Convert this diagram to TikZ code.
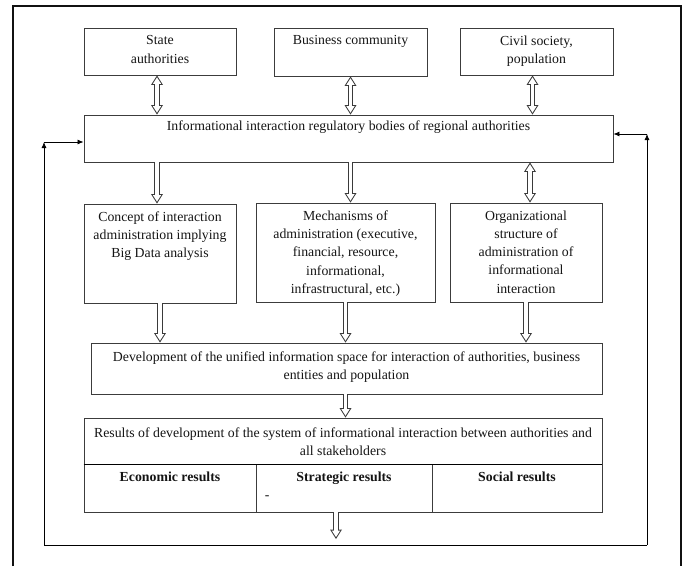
\documentclass[tikz,border=0pt]{standalone}
\usepackage{fontspec}
\setmainfont{Liberation Serif}
\usepackage{tikz}
\usetikzlibrary{arrows.meta, positioning, calc}
\definecolor{frameline}{HTML}{111111}
\definecolor{boxline}{HTML}{3C3C3C}
\definecolor{arrowline}{HTML}{3A3A3A}
\definecolor{textcol}{HTML}{141414}
\newcommand{\boxfont}{\fontsize{13.8}{18.2}\selectfont}
\tikzset{
    box/.style={rectangle, draw=boxline, line width=0.9pt, inner sep=0pt},
    boxtext/.style={anchor=north, align=center, inner sep=0pt, yshift=-8pt, font=\boxfont, text=textcol},
    outertip/.tip={Triangle[length=9.5pt, width=12pt, line width=0pt]},
    innertip/.tip={Triangle[length=6.6pt, width=8.4pt, line width=0pt]},
    hollow/.style={draw=arrowline, line width=5.6pt, -outertip,
        postaction={draw=white, line width=3.6pt, -innertip, shorten >=1.9pt}},
    hollowboth/.style={draw=arrowline, line width=5.6pt, outertip-outertip,
        postaction={draw=white, line width=3.6pt, innertip-innertip, shorten >=1.9pt, shorten <=1.9pt}},
    loopline/.style={draw=black, line width=0.8pt},
    looparrow/.style={loopline, -{Latex[length=6pt, width=5pt]}},
    frame/.style={draw=frameline, line width=1.8pt}
}

\begin{document}
\begin{tikzpicture}[x=1pt, y=-1pt]
    \useasboundingbox (0,0) rectangle (688,566);
    \draw [frame] (13,566) |- (681,6) -- (681,566);

    % stakeholders
    \node [box, minimum width=152pt, minimum height=47pt, label={[boxtext]north:State\\authorities}] (state) at (160,51.5) {};
    \node [box, minimum width=153pt, minimum height=48pt, label={[boxtext]north:Business community}] (business) at (350.5,52) {};
    \node [box, minimum width=153pt, minimum height=47pt, label={[boxtext]north:{Civil society,\\population}}] (civil) at (536.5,51.5) {};

    \node [box, minimum width=529pt, minimum height=47pt, label={[boxtext, yshift=2pt]north:Informational interaction regulatory bodies of regional authorities}] (regulator) at (348.5,138.5) {};

    % administration level
    \node [box, minimum width=152pt, minimum height=99pt, label={[boxtext]north:Concept of interaction\\administration implying\\Big Data analysis}] (concept) at (160,253.5) {};
    \node [box, minimum width=179pt, minimum height=99pt, label={[boxtext]north:{Mechanisms of\\administration (executive,\\financial, resource,\\informational,\\infrastructural, etc.)}}] (mechanisms) at (345.5,252.5) {};
    \node [box, minimum width=152pt, minimum height=99pt, label={[boxtext]north:Organizational\\structure of\\administration of\\informational\\interaction}] (structure) at (526,252.5) {};

    \node [box, minimum width=511pt, minimum height=51pt, label={[boxtext, yshift=-1pt]north:{Development of the unified information space for interaction of authorities, business\\entities and population}}] (space) at (346.5,368.5) {};

    % results
    \node [box, minimum width=518pt, minimum height=46pt, label={[boxtext, yshift=-2pt]north:Results of development of the system of informational interaction between authorities and\\all stakeholders}] (results) at (343,441) {};
    \node [box, minimum width=172pt, minimum height=48pt, label={[boxtext, font=\boxfont\bfseries]north:Economic results}] (economic) at (170,488) {};
    \node [box, minimum width=176pt, minimum height=48pt, label={[boxtext, font=\boxfont\bfseries]north:Strategic results}, label={[anchor=south west, inner sep=0pt, xshift=9pt, yshift=13pt, font=\boxfont, text=textcol]south west:-}] (strategic) at (344,488) {};
    \node [box, minimum width=170pt, minimum height=48pt, label={[boxtext, font=\boxfont\bfseries]north:Social results}] (social) at (517,488) {};
    \draw [line width=1.6pt] (results.south west) -- (results.south east);

    % hollow arrows
    \draw [hollowboth] ([xshift=-3pt]state.south) -- ([xshift=-3pt]state.south |- regulator.north);
    \draw [hollowboth] (business.south) -- (business.south |- regulator.north);
    \draw [hollowboth] ([xshift=-4pt]civil.south) -- ([xshift=-4pt]civil.south |- regulator.north);
    \draw [hollow] ([xshift=-3pt]concept.north |- regulator.south) -- ([xshift=-3pt]concept.north);
    \draw [hollow] (regulator.south -| business.south) -- (mechanisms.north -| business.south);
    \draw [hollowboth] ([xshift=4pt]structure.north |- regulator.south) -- ([xshift=4pt]structure.north);
    \draw [hollow] (concept.south) -- (concept.south |- space.north);
    \draw [hollow] (mechanisms.south) -- (mechanisms.south |- space.north);
    \draw [hollow] (structure.south) -- (structure.south |- space.north);
    \draw [hollow] (space.south -| mechanisms.south) -- (results.north -| mechanisms.south);
    \coordinate (outlet) at (336,539);
    \draw [hollow] (strategic.south -| outlet) -- (outlet);

    % feedback loop
    \coordinate (loopleft) at (44,545);
    \coordinate (loopright) at (647,545);
    \coordinate (cornerleft) at (44,142);
    \coordinate (cornerright) at (647,134);
    \draw [loopline] (loopleft) -- (loopright);
    \draw [looparrow] (loopleft) -- (cornerleft);
    \draw [looparrow] (cornerleft) -- (cornerleft -| regulator.west);
    \draw [looparrow] (loopright) -- (cornerright);
    \draw [looparrow] (cornerright) -- (cornerright -| regulator.east);
\end{tikzpicture}
\end{document}
